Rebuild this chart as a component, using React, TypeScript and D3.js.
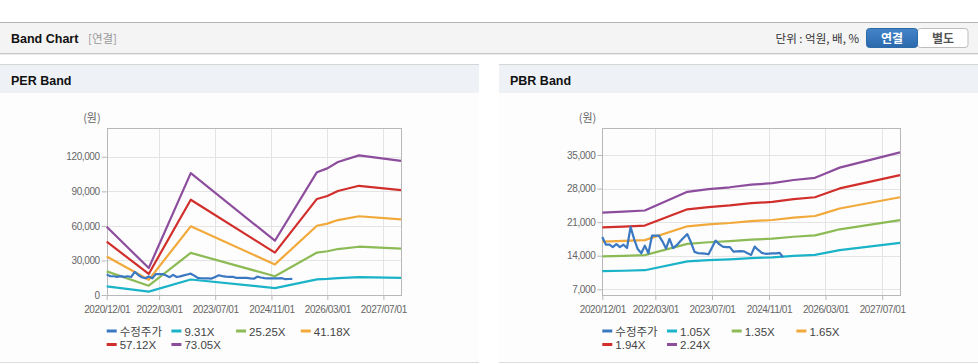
import React, { useRef, useEffect } from 'react';
import * as d3 from 'd3';

// x axis ticks (same for both panels)
const xTickDates = ['2020-12-01', '2022-03-01', '2023-07-01', '2024-11-01', '2026-03-01', '2027-07-01'];

// 수정주가, monthly from 2020/12
const priceValues = [
    17900, 16300, 16300, 15800, 16400, 15800, 16300, 15600, 20000, 17400,
    15400, 14500, 16100, 14500, 18200, 18200, 18200, 17000, 15500, 17500,
    15600, 16200, 17000, 17800, 18500, 16800, 14800, 14550, 14500, 14450,
    14300, 15700, 17150, 16400, 15900, 15800, 15800, 14860, 14900, 14950,
    14900, 14500, 14170, 15900, 15200, 14600, 14400, 14450, 14500, 14500,
    14600, 13700, 13900, 14000,
];
const pbrPriceCount = 52;

// PER band
const perLabels = ['9.31X', '25.25X', '41.18X', '57.12X', '73.05X'];
const perDates = ['2020-12', '2021-12', '2022-12', '2024-12', '2025-12', '2026-03', '2026-06', '2026-12', '2027-12'];
const per931 = [7550, 2980, 13480, 6000, 13590, 14010, 14710, 15450, 14850];
const per2525 = [20480, 8080, 36560, 16290, 36870, 38000, 39900, 41920, 40270];
const per4118 = [33400, 13180, 59630, 26560, 60120, 61980, 65060, 68360, 65680];
const per5712 = [46320, 18280, 82710, 36840, 83400, 85970, 90250, 94820, 91110];
const per7305 = [59240, 23380, 105780, 47120, 106650, 109940, 115420, 121260, 116520];
const perYTicks = [0, 30000, 60000, 90000, 120000];

// PBR band
const pbrLabels = ['1.05X', '1.35X', '1.65X', '1.94X', '2.24X'];
const pbrDates = ['2020-12', '2021-06', '2021-12', '2022-12', '2023-06', '2023-12', '2024-06', '2024-12', '2025-06', '2025-12', '2026-03', '2026-07', '2027-12'];
const pbr105 = [10770, 10870, 10980, 12810, 13070, 13250, 13500, 13650, 13970, 14180, 14600, 15170, 16660];
const pbr135 = [13850, 13970, 14120, 16470, 16810, 17040, 17360, 17550, 17960, 18230, 18770, 19510, 21430];
const pbr165 = [16930, 17080, 17260, 20130, 20540, 20820, 21220, 21450, 21950, 22280, 22940, 23840, 26190];
const pbr194 = [19900, 20080, 20290, 23670, 24150, 24480, 24950, 25220, 25800, 26190, 26970, 28030, 30790];
const pbr224 = [22980, 23180, 23430, 27330, 27890, 28270, 28810, 29120, 29790, 30240, 31140, 32370, 35550];
const pbrYTicks = [7000, 14000, 21000, 28000, 35000];

const priceLabel = '수정주가';
const colors = ['#3b78c2', '#1ab3c8', '#8cba55', '#f2a93b', '#d12f2c', '#8d4d9d'];

const FONT = "'Liberation Sans', 'Noto Sans CJK KR', sans-serif";
const KFONT = "'Noto Sans CJK KR', sans-serif";

const parseMonth = d3.timeParse('%Y-%m');
const parseDay = d3.timeParse('%Y-%m-%d');
const fmtTick = d3.timeFormat('%Y/%m/%d');

type Panel = {
    x0: number; title: string;
    left: number; right: number;
    yDomain: [number, number]; yTicks: number[];
    bandDates: string[]; bands: number[][]; labels: string[];
    priceCount: number;
};

function drawPanel(svg: any, p: Panel) {
    const top = 128, bottom = 295;
    const pw = 479;

    // panel frame
    svg.append('rect').attr('x', p.x0).attr('y', 64).attr('width', pw).attr('height', 298).attr('fill', '#fdfdfd');
    svg.append('rect').attr('x', p.x0).attr('y', 64).attr('width', pw).attr('height', 29).attr('fill', '#eef2f7');
    svg.append('line').attr('x1', p.x0).attr('x2', p.x0 + pw).attr('y1', 64.5).attr('y2', 64.5).attr('stroke', '#d6d6d6');
    svg.append('line').attr('x1', p.x0).attr('x2', p.x0 + pw).attr('y1', 362.5).attr('y2', 362.5).attr('stroke', '#dddddd');
    svg.append('text').attr('x', p.x0 + 11).attr('y', 85).attr('font-family', FONT).attr('font-weight', 'bold')
        .attr('font-size', '12.5px').attr('fill', '#111').text(p.title);

    const start = parseDay('2020-12-01')!;
    const end = parseDay('2027-12-01')!;
    const x = d3.scaleTime().domain([start, end]).range([p.left, p.right]);
    const y = d3.scaleLinear().domain(p.yDomain).range([bottom, top]);
    const ticks = xTickDates.map(d => parseDay(d)!);

    const g = svg.append('g');

    // grid
    g.selectAll('.vg').data(ticks.slice(1)).enter().append('line')
        .attr('x1', (d: Date) => Math.round(x(d)) + 0.5).attr('x2', (d: Date) => Math.round(x(d)) + 0.5)
        .attr('y1', top).attr('y2', bottom).attr('stroke', '#e4e4e4');
    g.selectAll('.hg').data(p.yTicks).enter().append('line')
        .attr('x1', p.left).attr('x2', p.right)
        .attr('y1', (d: number) => Math.round(y(d)) + 0.5).attr('y2', (d: number) => Math.round(y(d)) + 0.5)
        .attr('stroke', '#e4e4e4');

    // frame
    g.append('rect').attr('x', Math.round(p.left) + 0.5).attr('y', top + 0.5)
        .attr('width', Math.round(p.right - p.left)).attr('height', bottom - top)
        .attr('fill', 'none').attr('stroke', '#b8b8b8');

    // axes
    const xAxis = d3.axisBottom(x).tickValues(ticks).tickFormat((d: any) => fmtTick(d)).tickSize(5).tickSizeOuter(0);
    const gx = g.append('g').attr('transform', `translate(0,${bottom})`).call(xAxis);
    gx.select('.domain').remove();
    gx.selectAll('line').attr('stroke', '#b8b8b8');
    gx.selectAll('text').attr('fill', '#666').attr('font-family', FONT).attr('font-size', '10px')
        .attr('letter-spacing', '-0.4px').attr('dy', '0.95em');

    const yAxis = d3.axisLeft(y).tickValues(p.yTicks).tickFormat(d3.format(',')).tickSize(5).tickSizeOuter(0);
    const gy = g.append('g').attr('transform', `translate(${p.left},0)`).call(yAxis);
    gy.select('.domain').remove();
    gy.selectAll('line').attr('stroke', '#b8b8b8');
    gy.selectAll('text').attr('fill', '#666').attr('font-family', FONT).attr('font-size', '10px')
        .attr('letter-spacing', '-0.4px').attr('x', -7);

    g.append('text').attr('x', p.left - 6).attr('y', 122).attr('text-anchor', 'end')
        .attr('font-family', KFONT).attr('font-size', '11px').attr('fill', '#666').text('(원)');

    // lines
    const line = d3.line<[Date, number]>().x(d => x(d[0])).y(d => y(d[1]));
    const bandDates = p.bandDates.map(d => parseMonth(d)!);
    p.bands.forEach((vals, i) => {
        g.append('path').datum(vals.map((v, k) => [bandDates[k], v] as [Date, number]))
            .attr('fill', 'none').attr('stroke', colors[i + 1]).attr('stroke-width', 2.2)
            .attr('stroke-linejoin', 'round').attr('d', line);
    });
    const priceData = priceValues.slice(0, p.priceCount)
        .map((v, k) => [d3.timeMonth.offset(start, k), v] as [Date, number]);
    g.append('path').datum(priceData)
        .attr('fill', 'none').attr('stroke', colors[0]).attr('stroke-width', 2.2)
        .attr('stroke-linejoin', 'round').attr('d', line);

    // legend
    const items = [priceLabel, ...p.labels];
    items.forEach((lab, i) => {
        const row = i < 4 ? 0 : 1;
        const col = i < 4 ? i : i - 4;
        const lx = p.left + col * 64.7;
        const ly = row === 0 ? 331 : 344.5;
        svg.append('line').attr('x1', lx).attr('x2', lx + 10).attr('y1', ly).attr('y2', ly)
            .attr('stroke', colors[i]).attr('stroke-width', 3);
        svg.append('text').attr('x', lx + 13).attr('y', ly + 4.5).attr('font-family', FONT)
            .attr('font-size', '11.5px').attr('fill', '#444').text(lab);
    });
}

export default function App() {
    const svgRef = useRef<SVGSVGElement>(null);

    useEffect(() => {
        if (!svgRef.current) return;
        document.body.style.margin = '0';
        const width = 978, height = 364;
        const svg = d3.select(svgRef.current).attr('width', width).attr('height', height);
        svg.selectAll('*').remove();

        svg.append('rect').attr('width', width).attr('height', height).attr('fill', '#fff');

        // header bar
        svg.append('rect').attr('x', 0).attr('y', 22).attr('width', width).attr('height', 31).attr('fill', '#f4f4f4');
        svg.append('line').attr('x1', 0).attr('x2', width).attr('y1', 22.5).attr('y2', 22.5).attr('stroke', '#b4b4b4');
        svg.append('line').attr('x1', 0).attr('x2', width).attr('y1', 53.5).attr('y2', 53.5).attr('stroke', '#c8c8c8');
        svg.append('line').attr('x1', 0).attr('x2', width).attr('y1', 54.5).attr('y2', 54.5).attr('stroke', '#ececec');
        svg.append('text').attr('x', 11).attr('y', 43).attr('font-family', FONT).attr('font-weight', 'bold')
            .attr('font-size', '12.5px').attr('fill', '#111').text('Band Chart');
        svg.append('text').attr('x', 88).attr('y', 43).attr('font-family', KFONT)
            .attr('font-size', '11.5px').attr('fill', '#999').text('[연결]');
        svg.append('text').attr('x', 859).attr('y', 43).attr('text-anchor', 'end').attr('font-family', KFONT)
            .attr('font-size', '11.5px').attr('fill', '#333').text('단위 : 억원, 배, %');

        // toggle buttons
        const defs = svg.append('defs');
        const bg = defs.append('linearGradient').attr('id', 'btnBlue').attr('x1', '0').attr('y1', '0').attr('x2', '0').attr('y2', '1');
        bg.append('stop').attr('offset', '0%').attr('stop-color', '#4584c9');
        bg.append('stop').attr('offset', '100%').attr('stop-color', '#2b69ac');
        svg.append('rect').attr('x', 917.5).attr('y', 28.5).attr('width', 50.5).attr('height', 19).attr('rx', 3)
            .attr('fill', '#fff').attr('stroke', '#bdbdbd');
        svg.append('rect').attr('x', 866.5).attr('y', 28.5).attr('width', 51).attr('height', 19).attr('rx', 3)
            .attr('fill', 'url(#btnBlue)').attr('stroke', '#2d6aa8');
        svg.append('text').attr('x', 892).attr('y', 42.5).attr('text-anchor', 'middle').attr('font-family', KFONT)
            .attr('font-weight', 'bold').attr('font-size', '12px').attr('fill', '#fff').text('연결');
        svg.append('text').attr('x', 943).attr('y', 42.5).attr('text-anchor', 'middle').attr('font-family', KFONT)
            .attr('font-weight', 'bold').attr('font-size', '12px').attr('fill', '#555').text('별도');

        drawPanel(svg, {
            x0: 0, title: 'PER Band', left: 106.7, right: 401,
            yDomain: [0, 145000], yTicks: perYTicks,
            bandDates: perDates, bands: [per931, per2525, per4118, per5712, per7305], labels: perLabels,
            priceCount: priceValues.length,
        });
        drawPanel(svg, {
            x0: 499, title: 'PBR Band', left: 602.3, right: 900,
            yDomain: [5810, 40630], yTicks: pbrYTicks,
            bandDates: pbrDates, bands: [pbr105, pbr135, pbr165, pbr194, pbr224], labels: pbrLabels,
            priceCount: pbrPriceCount,
        });
    }, []);

    return <svg ref={svgRef} style={{ display: 'block' }} />;
}
